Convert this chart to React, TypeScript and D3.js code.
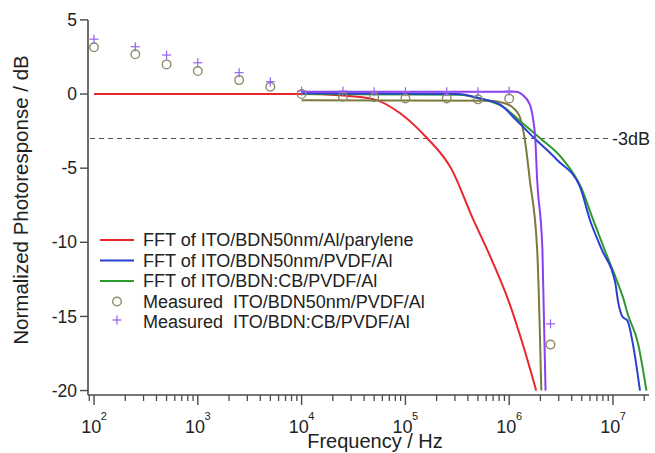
import * as d3 from "d3";

// frequency (Hz) / dB pairs
const redFft: [number, number][] = [
  [100, 0], [1e4, 0], [2.5e4, -0.1], [5e4, -0.36], [8.9e4, -1.3], [1.26e5, -2.2],
  [1.58e5, -2.9], [2.8e5, -5.1], [4.4e5, -8.3], [6.9e5, -11.3], [9.8e5, -13.9],
  [1.41e6, -17.3], [1.82e6, -20],
];
const blueFft: [number, number][] = [
  [1e4, 0.05], [3.2e5, 0], [5.2e5, -0.3], [8.1e5, -0.7], [1.17e6, -1.75],
  [1.7e6, -2.9], [2.9e6, -4.45], [4.8e6, -6.25], [6.0e6, -8.5], [7.8e6, -10.5],
  [1.05e7, -12.7], [1.12e7, -14.0], [1.23e7, -15.0], [1.38e7, -15.3],
  [1.55e7, -16.8], [1.82e7, -20],
];
const greenFft: [number, number][] = [
  [1e4, 0], [3.2e5, -0.05], [5.6e5, -0.35], [8.9e5, -0.9], [1.26e6, -1.8],
  [2.0e6, -3.0], [3.2e6, -4.3], [5.0e6, -6.4], [6.3e6, -8.3], [8.3e6, -10.5],
  [1.12e7, -12.8], [1.26e7, -13.8], [1.38e7, -14.8], [1.74e7, -16.8], [2.1e7, -20],
];
const oliveFit: [number, number][] = [
  [1e4, -0.42], [6.3e5, -0.45], [8.9e5, -0.6], [1.12e6, -1.0], [1.26e6, -1.5],
  [1.41e6, -3.0], [1.58e6, -5.8], [1.86e6, -10.5], [2.04e6, -20],
];
const purpleFit: [number, number][] = [
  [1e4, 0.15], [1.17e6, 0.15], [1.35e6, -0.07], [1.58e6, -0.7], [1.7e6, -1.7],
  [1.78e6, -2.9], [1.86e6, -5.8], [2.09e6, -10.5], [2.24e6, -20],
];

const measFreq = [100, 250, 500, 1000, 2500, 5000, 1e4, 2.5e4, 5e4, 1e5, 2.5e5, 5e5, 1e6, 2.5e6];
const measPvdf = [3.15, 2.68, 2.0, 1.55, 0.94, 0.49, 0, -0.18, -0.22, -0.3, -0.3, -0.36, -0.3, -16.9];
const measCb = [3.7, 3.19, 2.63, 2.11, 1.44, 0.83, 0.2, 0.2, 0.15, 0.15, 0.15, 0.15, 0.2, -15.5];

const yTicks = [5, 0, -5, -10, -15, -20];
const xDecades = [2, 3, 4, 5, 6, 7];

const legendItems = [
  { label: "FFT of ITO/BDN50nm/Al/parylene", color: "#e8262b", kind: "line" },
  { label: "FFT of ITO/BDN50nm/PVDF/Al", color: "#2b3fd1", kind: "line" },
  { label: "FFT of ITO/BDN:CB/PVDF/Al", color: "#2d9a30", kind: "line" },
  { label: "Measured  ITO/BDN50nm/PVDF/Al", color: "#8d8d68", kind: "circle" },
  { label: "Measured  ITO/BDN:CB/PVDF/Al", color: "#9560ee", kind: "plus" },
];

const W = 655;
const H = 453;
const left = 88;
const right = 649;
const top = 19.9;
const bottom = 395;

export default function App() {
  const x = d3.scaleLog().domain([10 ** 1.942, 10 ** 7.347]).range([left, right]);
  const y = d3.scaleLinear().domain([-20.3, 5]).range([bottom, top]);
  const line = d3
    .line<[number, number]>()
    .x((d) => x(d[0]))
    .y((d) => y(d[1]))
    .curve(d3.curveMonotoneX);

  const minor: number[] = [];
  for (let e = 1; e <= 7; e++) {
    for (let m = 2; m <= 9; m++) {
      const v = m * 10 ** e;
      if (v >= x.domain()[0] && v <= x.domain()[1]) minor.push(v);
    }
  }

  const curves = [
    { d: redFft, c: "#e8262b" },
    { d: oliveFit, c: "#7b7a3c" },
    { d: greenFft, c: "#2d9a30" },
    { d: blueFft, c: "#2b3fd1" },
    { d: purpleFit, c: "#8a3ff0" },
  ];

  const axisColor = "#4a4a4a";
  const font = "Liberation Sans, Arial, sans-serif";

  return (
    <svg
      width={W}
      height={H}
      style={{ position: "absolute", left: 0, top: 0, background: "#fff" }}
      fontFamily={font}
    >
      <defs>
        <clipPath id="plot">
          <rect x={left} y={top - 10} width={right - left + 5} height={bottom - top + 10} />
        </clipPath>
      </defs>

      {/* -3 dB reference */}
      <line
        x1={left + 2}
        x2={610}
        y1={y(-3)}
        y2={y(-3)}
        stroke="#555"
        strokeWidth={1.1}
        strokeDasharray="5,4"
      />
      <text x={612} y={y(-3)} dy="0.35em" fontSize={18} fill="#222">
        -3dB
      </text>

      <g clipPath="url(#plot)">
        {curves.map((s, i) => (
          <path key={i} d={line(s.d) ?? ""} fill="none" stroke={s.c} strokeWidth={2} />
        ))}
      </g>

      {measFreq.map((f, i) => (
        <circle
          key={"c" + i}
          cx={x(f)}
          cy={y(measPvdf[i])}
          r={4.3}
          fill="none"
          stroke="#8d8d68"
          strokeWidth={1.4}
        />
      ))}
      {measFreq.map((f, i) => (
        <g key={"p" + i} stroke="#9560ee" strokeWidth={1.2}>
          <line x1={x(f) - 4.5} x2={x(f) + 4.5} y1={y(measCb[i])} y2={y(measCb[i])} />
          <line x1={x(f)} x2={x(f)} y1={y(measCb[i]) - 4.5} y2={y(measCb[i]) + 4.5} />
        </g>
      ))}

      {/* axes */}
      <line x1={left} x2={left} y1={top} y2={bottom} stroke={axisColor} strokeWidth={1.6} />
      <line x1={left} x2={right} y1={bottom} y2={bottom} stroke={axisColor} strokeWidth={1.6} />
      {yTicks.map((t) => (
        <g key={t}>
          <line x1={left - 8} x2={left} y1={y(t)} y2={y(t)} stroke={axisColor} strokeWidth={1.4} />
          <text x={left - 11} y={y(t)} dy="0.35em" textAnchor="end" fontSize={17.5} fill="#222">
            {t}
          </text>
        </g>
      ))}
      {minor.map((v) => (
        <line key={v} x1={x(v)} x2={x(v)} y1={bottom} y2={bottom + 6} stroke={axisColor} strokeWidth={1.3} />
      ))}
      {xDecades.map((e) => (
        <g key={e}>
          <line
            x1={x(10 ** e)}
            x2={x(10 ** e)}
            y1={bottom}
            y2={bottom + 10}
            stroke={axisColor}
            strokeWidth={1.4}
          />
          <text x={x(10 ** e)} y={433} textAnchor="middle" fontSize={18} fill="#222">
            10<tspan fontSize={11} dx={-0.5} dy={-13}>{e}</tspan>
          </text>
        </g>
      ))}

      <text x={375} y={448} textAnchor="middle" fontSize={20} fill="#222">
        Frequency / Hz
      </text>
      <text
        transform={`translate(28, 200) rotate(-90)`}
        textAnchor="middle"
        fontSize={20.5}
        fill="#222"
      >
        Normalized Photoresponse / dB
      </text>

      {/* legend */}
      {legendItems.map((it, i) => {
        const ly = 240 + i * 20.5;
        return (
          <g key={it.label}>
            {it.kind === "line" && (
              <line x1={100} x2={134} y1={ly} y2={ly} stroke={it.color} strokeWidth={2} />
            )}
            {it.kind === "circle" && (
              <circle cx={117} cy={ly} r={4.3} fill="none" stroke={it.color} strokeWidth={1.4} />
            )}
            {it.kind === "plus" && (
              <g stroke={it.color} strokeWidth={1.2}>
                <line x1={112.5} x2={121.5} y1={ly - 2} y2={ly - 2} />
                <line x1={117} x2={117} y1={ly - 6.5} y2={ly + 2.5} />
              </g>
            )}
            <text x={143} y={ly} dy="0.35em" fontSize={18} fill="#222" style={{ whiteSpace: "pre" }}>
              {it.label}
            </text>
          </g>
        );
      })}
    </svg>
  );
}
